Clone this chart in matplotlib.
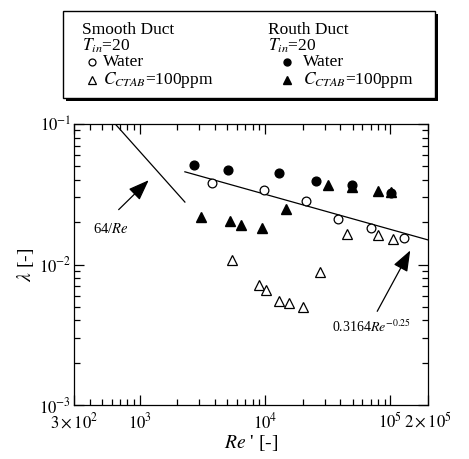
import matplotlib.pyplot as plt
from matplotlib.patches import Rectangle
from matplotlib.ticker import FixedLocator, LogLocator, NullFormatter

plt.rcParams['font.family'] = ['Liberation Serif', 'DejaVu Serif']
plt.rcParams['mathtext.fontset'] = 'stix'

# Smooth duct
smooth_water_re = [3800, 9860, 21230, 38000, 69700, 127700]
smooth_water_f = [0.0383, 0.0341, 0.0284, 0.0212, 0.0183, 0.0154]
smooth_ctab_re = [5510, 9010, 10240, 12940, 15540, 19990, 27310, 44840, 79250, 104300]
smooth_ctab_f = [0.0108, 0.0071, 0.0066, 0.0055, 0.0053, 0.0050, 0.0089, 0.0165, 0.0161, 0.0152]

# Rough duct
rough_water_re = [2720, 5100, 12940, 25370, 49150, 101700]
rough_water_f = [0.0512, 0.0469, 0.0451, 0.0395, 0.0368, 0.0322]
rough_ctab_re = [3070, 5260, 6440, 9420, 14630, 31630, 49150, 79250, 101700]
rough_ctab_f = [0.0218, 0.0205, 0.0190, 0.0181, 0.0247, 0.0366, 0.0357, 0.0331, 0.0326]

# reference correlations
lam_re = [640, 2300]
turb_re = [2300, 2e5]

x_ticks = [300, 1e3, 1e4, 1e5, 2e5]
x_labels = [r'$3\times10^{2}$', r'$10^{3}$', r'$10^{4}$', r'$10^{5}$', r'$2\times10^{5}$']
y_ticks = [1e-3, 1e-2, 1e-1]
y_labels = [r'$10^{-3}$', r'$10^{-2}$', r'$10^{-1}$']

W, H = 469, 459
fig = plt.figure(figsize=(W / 100, H / 100), dpi=100)
ax = fig.add_axes([74 / W, 1 - 405 / H, 354 / W, 281 / H])

ax.plot(lam_re, [64 / r for r in lam_re], color='k', lw=0.9)
ax.plot(turb_re, [0.3164 * r ** -0.25 for r in turb_re], color='k', lw=0.9)

ax.plot(rough_water_re, rough_water_f, 'o', color='k', ms=6.3)
ax.plot(rough_ctab_re, rough_ctab_f, '^', color='k', ms=7)
ax.plot(smooth_water_re, smooth_water_f, 'o', mfc='white', mec='k', mew=0.9, ms=6.3)
ax.plot(smooth_ctab_re, smooth_ctab_f, '^', mfc='white', mec='k', mew=0.9, ms=7)

ax.set_xscale('log')
ax.set_yscale('log')
ax.set_xlim(300, 2e5)
ax.set_ylim(1e-3, 1e-1)
ax.xaxis.set_major_locator(FixedLocator(x_ticks))
ax.set_xticklabels(x_labels)
ax.yaxis.set_major_locator(FixedLocator(y_ticks))
ax.set_yticklabels(y_labels)
ax.xaxis.set_minor_locator(LogLocator(subs=range(2, 10)))
ax.yaxis.set_minor_locator(LogLocator(subs=range(2, 10)))
ax.xaxis.set_minor_formatter(NullFormatter())
ax.yaxis.set_minor_formatter(NullFormatter())
ax.tick_params(which='both', direction='in', top=True, right=True, width=0.9, labelsize=12)
ax.tick_params(which='major', length=7)
ax.tick_params(which='minor', length=4)
ax.tick_params(axis='x', pad=5)
ax.tick_params(axis='y', pad=2)
for s in ax.spines.values():
    s.set_linewidth(0.9)

ax.set_xlabel(r"$Re$ ' [-]", fontsize=14, labelpad=1)
ax.set_ylabel(r"$\lambda$ [-]", fontsize=14, labelpad=2)

# annotations
arrow = dict(arrowstyle='-|>,head_length=0.8,head_width=0.3', color='k', lw=0.9, mutation_scale=16)
ax.annotate('', xy=(1227, 0.0411), xytext=(657, 0.0238), arrowprops=arrow)
ax.text(592, 0.0179, r'64/$Re$', fontsize=10.5, ha='center', va='center')
ax.annotate('', xy=(147900, 0.0131), xytext=(76800, 0.00446), arrowprops=arrow)
ax.text(70000, 0.0036, r'0.3164$Re^{-0.25}$', fontsize=10, ha='center', va='center')

# legend box drawn in pixel coordinates
lg = fig.add_axes([0, 0, 1, 1])
lg.set_xlim(0, W)
lg.set_ylim(H, 0)
lg.axis('off')
lg.add_patch(Rectangle((66, 14), 372, 87, fc='k', ec='none'))
lg.add_patch(Rectangle((63, 11), 372, 87, fc='white', ec='k', lw=1))

fs = 12.5
lg.text(82, 30, 'Smooth Duct', fontsize=fs, va='center')
lg.text(82, 46, r'$T_{in}$=20', fontsize=fs, va='center')
lg.plot(92, 62, 'o', mfc='white', mec='k', mew=0.9, ms=5)
lg.text(103, 62, 'Water', fontsize=fs, va='center')
lg.plot(92, 80, '^', mfc='white', mec='k', mew=0.9, ms=5.5)
lg.text(103, 80, r'$C_{CTAB}$=100ppm', fontsize=fs, va='center')

lg.text(268, 30, 'Routh Duct', fontsize=fs, va='center')
lg.text(268, 46, r'$T_{in}$=20', fontsize=fs, va='center')
lg.plot(287, 62, 'o', color='k', ms=5)
lg.text(303, 62, 'Water', fontsize=fs, va='center')
lg.plot(287, 80, '^', color='k', ms=5.5)
lg.text(303, 80, r'$C_{CTAB}$=100ppm', fontsize=fs, va='center')

fig.savefig('out.png', dpi=100)
